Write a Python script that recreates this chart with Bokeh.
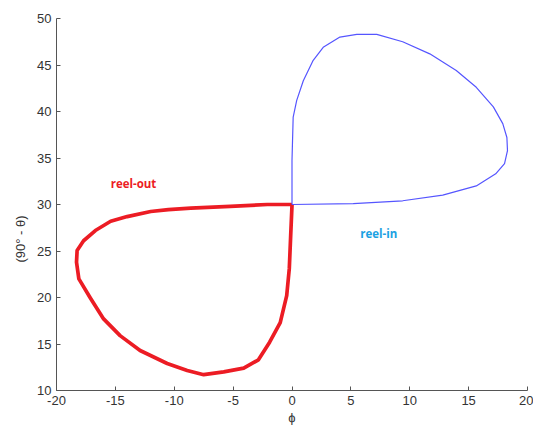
from bokeh.plotting import figure
from bokeh.models import Range1d, FixedTicker, Label, PrintfTickFormatter, Title
from bokeh.embed import file_html
from bokeh.resources import INLINE

# reel-out loop (red)
out_phi = [0, -2.1, -5.25, -8.6, -10.5, -12.0, -14.0, -15.4, -16.7, -17.7, -18.25, -18.3,
           -18.1, -17.1, -16.0, -14.6, -12.9, -10.6, -8.9, -7.5, -5.8, -4.1, -2.85,
           -1.9, -1.0, -0.45, -0.23, -0.11, 0, 0]
out_elev = [30, 30.0, 29.8, 29.6, 29.45, 29.25, 28.7, 28.2, 27.2, 26.1, 25.05, 23.8,
            22.0, 19.9, 17.7, 15.9, 14.3, 12.9, 12.15, 11.7, 12.0, 12.4, 13.3,
            15.2, 17.3, 20.2, 23.1, 26.7, 29.9, 30]

# reel-in loop (blue)
in_phi = [0, 0, 0.1, 0.4, 0.96, 1.8, 2.65, 4.07, 5.5, 7.2, 9.4, 11.7, 13.95, 15.65,
          17.1, 17.9, 18.25, 18.3, 18.05, 17.3, 15.65, 12.8, 9.4, 5.2, 0]
in_elev = [30, 34.7, 39.4, 41.2, 43.3, 45.5, 46.9, 48.0, 48.3, 48.3, 47.5, 46.2, 44.4, 42.6,
           40.5, 38.7, 37.2, 35.8, 34.4, 33.3, 32.0, 31.0, 30.4, 30.1, 30]

x_ticks = [-20, -15, -10, -5, 0, 5, 10, 15, 20]
y_ticks = [10, 15, 20, 25, 30, 35, 40, 45, 50]

p = figure(width=533, height=427, output_backend="svg", toolbar_location=None,
           x_range=Range1d(-20, 20), y_range=Range1d(10, 50),
           min_border_left=56, min_border_top=18, min_border_right=6, min_border_bottom=37)
p.outline_line_color = None
p.background_fill_color = "white"
p.xgrid.visible = False
p.ygrid.visible = False

p.line(out_phi, out_elev, line_color="#ec1c24", line_width=3.7, line_join="round")
p.line(in_phi, in_elev, line_color="#5555ff", line_width=1.2, line_join="round")

for ax in (p.xaxis[0], p.yaxis[0]):
    ax.major_tick_in = 4
    ax.major_tick_out = 0
    ax.minor_tick_line_color = None
    ax.axis_line_color = "#555555"
    ax.major_tick_line_color = "#555555"
    ax.major_label_text_font = "Liberation Sans"
    ax.major_label_text_font_size = "13px"
    ax.major_label_text_color = "#333333"
    ax.major_label_standoff = 5
    ax.formatter = PrintfTickFormatter(format="%d")

p.xaxis.ticker = FixedTicker(ticks=x_ticks)
p.yaxis.ticker = FixedTicker(ticks=y_ticks)

p.xaxis.axis_label = "ϕ"
p.xaxis.axis_label_standoff = 2
p.xaxis.axis_label_text_font = "Liberation Sans"
p.xaxis.axis_label_text_font_size = "13px"
p.xaxis.axis_label_text_font_style = "normal"
p.xaxis.axis_label_text_color = "#333333"

# y title as a left-side title, shifted to match the reference position
p.add_layout(Title(text="(90° - θ)", align="left", offset=128, standoff=14,
                   text_font="Liberation Sans", text_font_size="13px",
                   text_font_style="normal", text_color="#333333"), "left")

p.add_layout(Label(x=-15.4, y=32.3, text="reel-out", text_color="#ec1c24",
                   text_font="Open Sans", text_font_style="bold", text_font_size="11.5px",
                   text_baseline="middle"))
p.add_layout(Label(x=5.8, y=26.9, text="reel-in", text_color="#1ba1e2",
                   text_font="Open Sans", text_font_style="bold", text_font_size="11.5px",
                   text_baseline="middle"))

open("out.html", "w").write(file_html(p, INLINE))
